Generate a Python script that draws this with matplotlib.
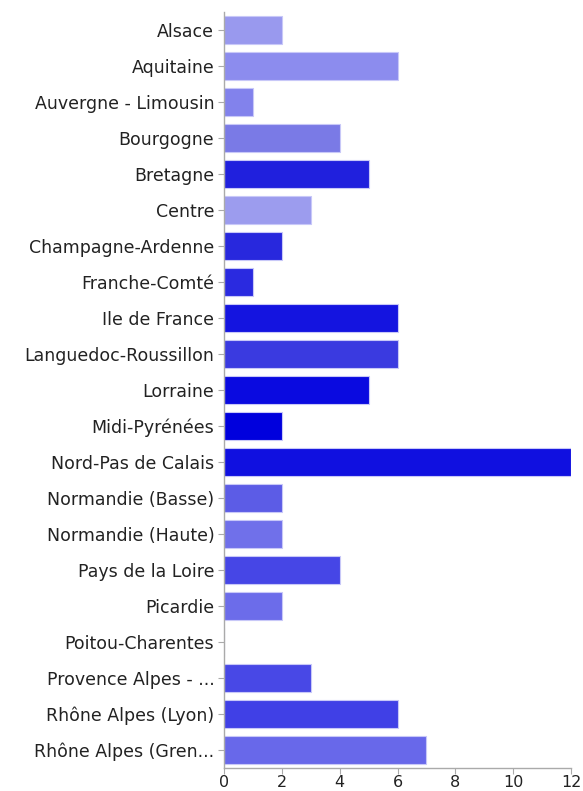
import matplotlib
matplotlib.use("Agg")
import matplotlib.pyplot as plt

regions = ["Alsace", "Aquitaine", "Auvergne - Limousin", "Bourgogne", "Bretagne", "Centre",
           "Champagne-Ardenne", "Franche-Comté", "Ile de France", "Languedoc-Roussillon",
           "Lorraine", "Midi-Pyrénées", "Nord-Pas de Calais", "Normandie (Basse)",
           "Normandie (Haute)", "Pays de la Loire", "Picardie", "Poitou-Charentes",
           "Provence Alpes - ...", "Rhône Alpes (Lyon)", "Rhône Alpes (Gren..."]
values = [2, 6, 1, 4, 5, 3, 2, 1, 6, 6, 5, 2, 12, 2, 2, 4, 2, 0, 3, 6, 7]
colors = ["#9999ee", "#8c8cee", "#8282ec", "#7a7ae6", "#2020dd", "#9c9cee",
          "#2828dd", "#2a2ae0", "#1414e0", "#3a3ae0", "#0a0ae0", "#0000dd",
          "#1010e0", "#5c5ce6", "#7070ea", "#4646e6", "#6c6cea", "#ffffff",
          "#4848e6", "#4040e6", "#6868ea"]
xticks = [0, 2, 4, 6, 8, 10, 12]

plt.rcParams['font.family'] = ['DejaVu Sans']

fig = plt.figure(figsize=(5.83, 7.91), dpi=100)
ax = fig.add_axes([224/583, 23/791, (571-224)/583, (779-23)/791])

y = list(range(len(regions)))
ax.barh(y, values, height=0.8, color=colors, edgecolor="#c8c8f8", linewidth=0.8)
ax.set_ylim(len(regions) - 0.5, -0.5)
ax.set_xlim(0, 12)
ax.set_yticks(y)
ax.set_yticklabels(regions, fontsize=12.5, color="#222222")
ax.set_xticks(xticks)
ax.set_xticklabels([str(t) for t in xticks], fontsize=11.5, color="#222222")

for s in ["top", "right"]:
    ax.spines[s].set_visible(False)
for s in ["left", "bottom"]:
    ax.spines[s].set_color("#aaaaaa")
    ax.spines[s].set_linewidth(1.0)
ax.tick_params(axis="y", length=4, color="#aaaaaa", pad=3)
ax.tick_params(axis="x", length=4, color="#aaaaaa", pad=1)

fig.savefig("out.png", dpi=100, facecolor="white")
